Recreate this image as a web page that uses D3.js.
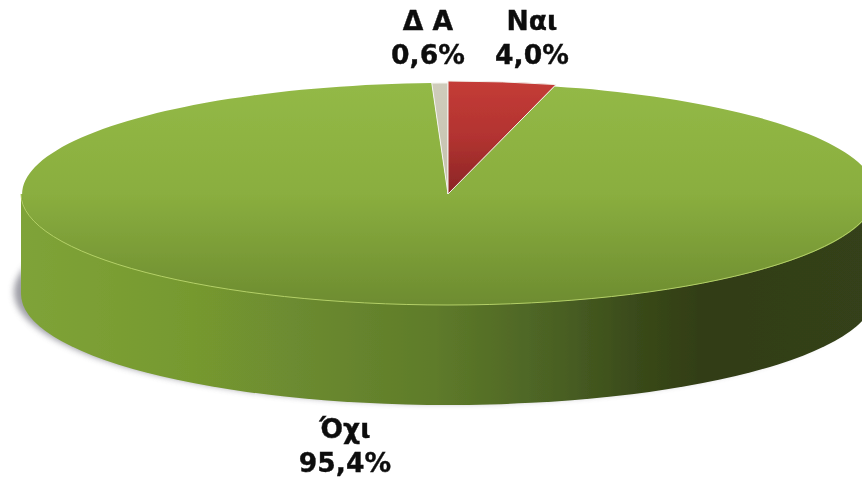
<!DOCTYPE html>
<html><head><meta charset="utf-8">
<script src="https://cdn.jsdelivr.net/npm/d3@7/dist/d3.min.js"></script>
<style>html,body{margin:0;padding:0;background:#fff}svg{display:block}
text{font-family:"DejaVu Sans",sans-serif;font-weight:700;font-size:26.6px;fill:#0c0c0c;stroke:#0c0c0c;stroke-width:.35px;text-anchor:middle}</style>
</head><body>
<svg id="c" width="862" height="479"></svg>
<script>
const categories = ["Ναι", "Όχι", "Δ Α"];
const values = [4.0, 95.4, 0.6];
const valueLabels = ["4,0%", "95,4%", "0,6%"];
const sideStops = [[0, "#7fa338"], [0.2, "#76992f"], [0.32, "#6c8b30"], [0.48, "#5f7c2a"], [0.62, "#4b6224"], [0.73, "#384819"], [0.8, "#323d17"], [1, "#34411a"]];

const W = 862, H = 479;
const cx = 448, cy = 194, rx = 427, ry = 111, depth = 100;
const svg = d3.select("#c");
const defs = svg.append("defs");

const lg = (id, attrs, stops) => {
  const g = defs.append("linearGradient").attr("id", id);
  Object.entries(attrs).forEach(([k, v]) => g.attr(k, v));
  stops.forEach(s => g.append("stop").attr("offset", s[0]).attr("stop-color", s[1]));
};
lg("side", {gradientUnits: "userSpaceOnUse", x1: cx - rx, x2: cx + rx, y1: 0, y2: 0}, sideStops);
lg("topG", {x1: 0, x2: 0, y1: 0, y2: 1}, [[0, "#93b946"], [0.5, "#8aae3f"], [1, "#6d8c30"]]);
lg("redG", {x1: 0, x2: 0, y1: 0, y2: 1}, [[0, "#c43c37"], [0.5, "#b23330"], [1, "#8a2526"]]);
lg("greyG", {x1: 0, x2: 0, y1: 0, y2: 1}, [[0, "#cfccbb"], [1, "#c4c1ae"]]);
defs.append("filter").attr("id", "blur").attr("x", "-5%").attr("y", "-10%").attr("width", "110%").attr("height", "120%")
  .append("feGaussianBlur").attr("stdDeviation", 3);
defs.append("filter").attr("id", "soft").append("feGaussianBlur").attr("stdDeviation", 0.45);

// scale mapping unit-circle pie coordinates onto the tilted disc
const sx = d3.scaleLinear().domain([-1, 1]).range([cx - rx, cx + rx]);
const sy = d3.scaleLinear().domain([-1, 1]).range([cy - ry, cy + ry]);
const discTransform = `translate(${sx(0)},${sy(0)}) scale(${rx},${ry})`;

// drop shadow, falling to the lower left
svg.append("ellipse").attr("cx", cx - 7).attr("cy", cy + depth - 2).attr("rx", rx).attr("ry", ry)
  .attr("fill", "#85858f").attr("opacity", 0.8).attr("filter", "url(#blur)");

// side wall
const body = svg.append("g").attr("filter", "url(#soft)");
body.append("rect").attr("x", cx - rx).attr("y", cy).attr("width", 2 * rx).attr("height", depth).attr("fill", "url(#side)");
body.append("ellipse").attr("cx", cx).attr("cy", cy + depth).attr("rx", rx).attr("ry", ry).attr("fill", "url(#side)");

// pie slices
const pie = d3.pie().sort(null).value(d => d.v);
const data = pie(categories.map((c, i) => ({c, v: values[i], l: valueLabels[i]})));
const fills = ["url(#redG)", "url(#topG)", "url(#greyG)"];
const outer = [1.018, 1, 1];
const order = [1, 2, 0];
const g = body.append("g").attr("transform", discTransform);
order.forEach(i => {
  const d = data[i];
  g.append("path")
    .attr("d", d3.arc().innerRadius(0).outerRadius(outer[i])(d))
    .attr("fill", fills[i])
    .attr("stroke", i === 1 ? "none" : "#f4f4ee")
    .attr("stroke-width", i === 1 ? 0 : 1)
    .attr("vector-effect", "non-scaling-stroke");
});

// rim highlight on front edge
const rim = d3.path();
rim.arc(0, 0, 1, 0, Math.PI);
g.append("path").attr("d", rim.toString()).attr("fill", "none")
  .attr("stroke", "#b4d068").attr("stroke-width", 1).attr("vector-effect", "non-scaling-stroke");

// labels
const labelPos = [[532, 30, 64], [345, 438, 472], [428, 30, 64]];
const tg = svg.append("g").attr("filter", "url(#soft)");
data.forEach((d, i) => {
  tg.append("text").attr("x", labelPos[i][0]).attr("y", labelPos[i][1]).text(d.data.c);
  tg.append("text").attr("x", labelPos[i][0]).attr("y", labelPos[i][2]).text(d.data.l);
});
</script>
</body></html>
